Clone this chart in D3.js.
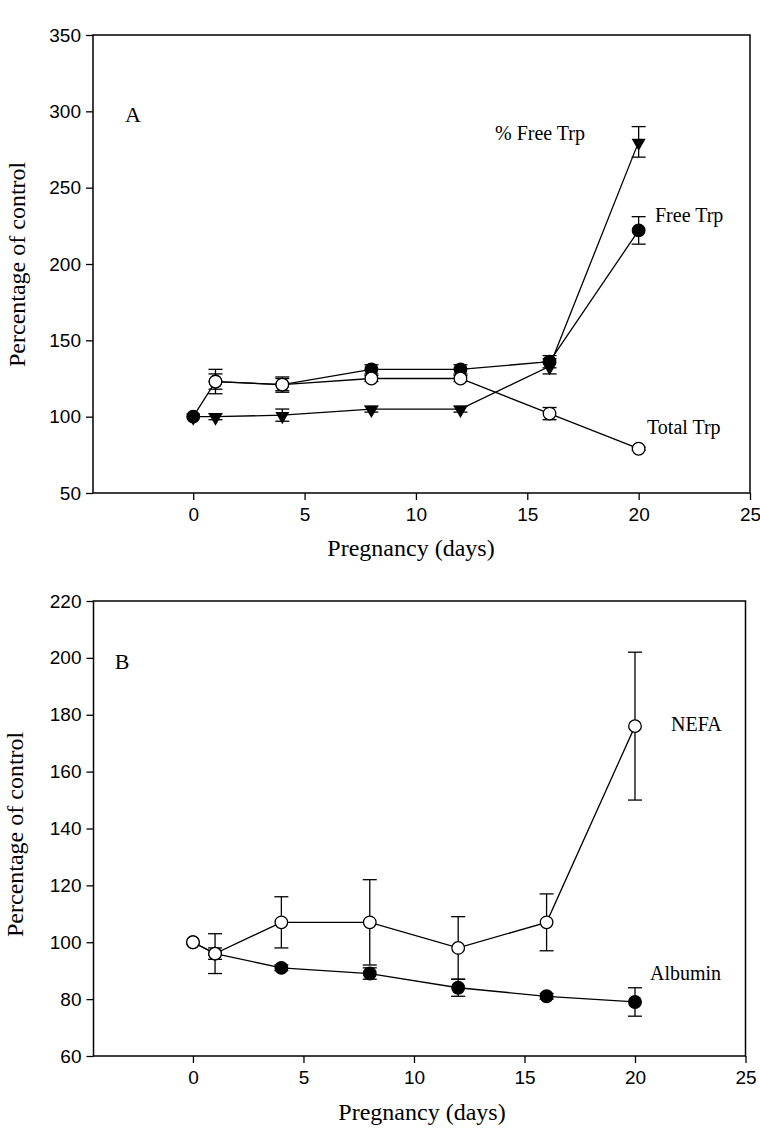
<!DOCTYPE html>
<html><head><meta charset="utf-8">
<script src="https://cdn.jsdelivr.net/npm/d3@7"></script>
<style>body{margin:0;background:#fff}svg{display:block}</style>
</head><body>
<svg id="c" width="760" height="1130"></svg>
<script>
// ---- Panel A data ----
const daysFree = [0, 1, 4, 8, 12, 16, 20];
const freeTrp = [100, 123, 121, 131, 131, 136, 222];
const freeTrpErr = [0, 5, 4, 3, 3, 4, 9];
const daysTotal = [1, 4, 8, 12, 16, 20];
const totalTrp = [123, 121, 125, 125, 102, 79];
const totalTrpErr = [8, 5, 2, 2, 4, 1];
const daysPct = [0, 1, 4, 8, 12, 16, 20];
const pctFreeTrp = [100, 100, 101, 105, 105, 133, 280];
const pctFreeTrpErr = [0, 2, 4, 2, 2, 5, 10];
const yTicksA = [50, 100, 150, 200, 250, 300, 350];
// ---- Panel B data ----
const daysNefa = [0, 1, 4, 8, 12, 16, 20];
const nefa = [100, 96, 107, 107, 98, 107, 176];
const nefaErr = [0, 7, 9, 15, 11, 10, 26];
const daysAlb = [0, 1, 4, 8, 12, 16, 20];
const albumin = [100, 96, 91, 89, 84, 81, 79];
const albuminErr = [0, 2, 1, 2, 3, 1, 5];
const yTicksB = [60, 80, 100, 120, 140, 160, 180, 200, 220];
const xTicks = [0, 5, 10, 15, 20, 25];
const xLabel = "Pregnancy (days)";
const yLabel = "Percentage of control";

const svg = d3.select("#c");
const serif = "'Liberation Serif','Times New Roman',serif";
const sans = "'Liberation Sans',Arial,sans-serif";

function panel(cfg) {
  const x = d3.scaleLinear().domain([-4.5, 25]).range([cfg.left, cfg.right]);
  const y = d3.scaleLinear().domain(cfg.yDomain).range([cfg.bottom, cfg.top]);
  const g = svg.append("g");
  g.append("rect").attr("x", cfg.left).attr("y", cfg.top)
    .attr("width", cfg.right - cfg.left).attr("height", cfg.bottom - cfg.top)
    .attr("fill", "none").attr("stroke", "#000").attr("stroke-width", 1.5);
  const xa = g.append("g").attr("transform", `translate(0,${cfg.bottom})`)
    .call(d3.axisBottom(x).tickValues(xTicks).tickSize(7).tickPadding(8).tickFormat(d3.format("d")));
  const ya = g.append("g").attr("transform", `translate(${cfg.left},0)`)
    .call(d3.axisLeft(y).tickValues(cfg.yTicks).tickSize(7).tickPadding(5).tickFormat(d3.format("d")));
  [xa, ya].forEach(a => {
    a.select(".domain").remove();
    a.selectAll("line").attr("stroke", "#000").attr("stroke-width", 1.3);
    a.selectAll("text").attr("font-family", sans).attr("font-size", 19).attr("fill", "#000");
  });
  const line = d3.line().x(d => x(d[0])).y(d => y(d[1]));
  const data = cfg.series.map(s => s.xs.map((d, i) => [d, s.ys[i], s.err[i]]));
  cfg.series.forEach((s, k) => {
    g.append("path").attr("d", line(data[k])).attr("fill", "none")
      .attr("stroke", "#000").attr("stroke-width", 1.3);
  });
  cfg.series.forEach((s, k) => {
    const eb = g.append("g").attr("stroke", "#000").attr("stroke-width", 1.3);
    data[k].filter(d => d[2] > 0).forEach(d => {
      eb.append("line").attr("x1", x(d[0])).attr("x2", x(d[0]))
        .attr("y1", y(d[1] - d[2])).attr("y2", y(d[1] + d[2]));
      [d[1] - d[2], d[1] + d[2]].forEach(v => {
        eb.append("line").attr("x1", x(d[0]) - 7).attr("x2", x(d[0]) + 7)
          .attr("y1", y(v)).attr("y2", y(v));
      });
    });
  });
  cfg.series.forEach((s, k) => {
    const mg = g.append("g");
    data[k].forEach(d => {
      if (s.shape === "tri") {
        mg.append("path").attr("d", d3.symbol(d3.symbolTriangle, 85)())
          .attr("transform", `translate(${x(d[0])},${y(d[1]) + 1}) rotate(180)`)
          .attr("fill", "#000");
      } else {
        mg.append("circle").attr("cx", x(d[0])).attr("cy", y(d[1])).attr("r", 6.3)
          .attr("fill", s.shape === "open" ? "#fff" : "#000")
          .attr("stroke", "#000").attr("stroke-width", 1.3);
      }
    });
  });
  cfg.labels.forEach(l => {
    g.append("text").attr("x", l.x).attr("y", l.y).attr("font-family", serif)
      .attr("font-size", l.size || 20).attr("text-anchor", l.anchor || "start").text(l.t);
  });
  g.append("text").attr("x", cfg.xlx).attr("y", cfg.xly).attr("text-anchor", "middle")
    .attr("font-family", serif).attr("font-size", 24).text(xLabel);
  g.append("text").attr("transform", `translate(${cfg.ylx},${cfg.yly}) rotate(-90)`)
    .attr("text-anchor", "start").attr("font-family", serif).attr("font-size", 24).text(yLabel);
}

panel({
  left: 93, right: 750, top: 35, bottom: 493, yDomain: [50, 350], yTicks: yTicksA,
  series: [
    {xs: daysPct, ys: pctFreeTrp, err: pctFreeTrpErr, shape: "tri"},
    {xs: daysFree, ys: freeTrp, err: freeTrpErr, shape: "filled"},
    {xs: daysTotal, ys: totalTrp, err: totalTrpErr, shape: "open"}
  ],
  labels: [
    {t: "A", x: 133, y: 122, size: 22, anchor: "middle"},
    {t: "% Free Trp", x: 495, y: 140},
    {t: "Free Trp", x: 655, y: 222},
    {t: "Total Trp", x: 647, y: 434}
  ],
  xlx: 411, xly: 556, ylx: 25, yly: 367
});

panel({
  left: 93.5, right: 745.5, top: 601, bottom: 1056, yDomain: [60, 220], yTicks: yTicksB,
  series: [
    {xs: daysAlb, ys: albumin, err: albuminErr, shape: "filled"},
    {xs: daysNefa, ys: nefa, err: nefaErr, shape: "open"}
  ],
  labels: [
    {t: "B", x: 122, y: 669, size: 22, anchor: "middle"},
    {t: "NEFA", x: 671, y: 731},
    {t: "Albumin", x: 650, y: 980}
  ],
  xlx: 422, xly: 1120, ylx: 23, yly: 937
});
</script>
</body></html>
